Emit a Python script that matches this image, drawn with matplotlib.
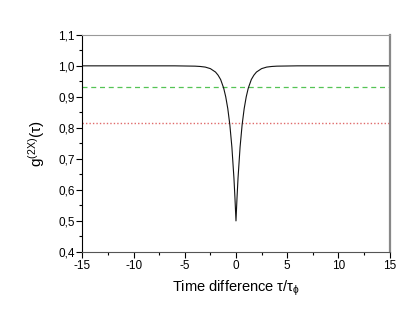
"""g2 correlation dip vs time difference, Origin-style look."""

import matplotlib
matplotlib.use("Agg")
import matplotlib.pyplot as plt
from matplotlib.ticker import MultipleLocator, FuncFormatter

# values (symmetric dip at tau = 0)
tau_half = [0.0, 0.1, 0.2, 0.4, 0.6, 0.8, 1.0, 1.2, 1.5, 1.75, 2.0, 2.5, 3.0, 3.5, 4.0, 6.0, 15.0]
g_half = [0.500, 0.574, 0.638, 0.738, 0.810, 0.862, 0.900, 0.928, 0.956, 0.970,
          0.980, 0.991, 0.996, 0.998, 0.999, 1.000, 1.000]

tau = [-t for t in tau_half[::-1]] + tau_half[1:]
g2 = g_half[::-1] + g_half[1:]

level_green = 0.932
level_red = 0.815

plt.rcParams["font.family"] = ["Liberation Sans", "DejaVu Sans"]
plt.rcParams["mathtext.fontset"] = "custom"
plt.rcParams["mathtext.rm"] = "Liberation Sans"
plt.rcParams["mathtext.it"] = "Liberation Sans"

fig = plt.figure(figsize=(4.14, 3.11), dpi=100)
ax = fig.add_axes([0.199, 0.190, 0.742, 0.698])

ax.axhline(level_green, color="#55c455", lw=0.9, ls=(0, (4, 3)))
ax.axhline(level_red, color="#e06a6a", lw=1.0, ls=(0, (1, 1.5)))
ax.plot(tau, g2, color="#111111", lw=0.8)

ax.set_xlim(-15, 15)
ax.set_ylim(0.4, 1.1)
ax.xaxis.set_major_locator(MultipleLocator(5))
ax.xaxis.set_minor_locator(MultipleLocator(2.5))
ax.yaxis.set_major_locator(MultipleLocator(0.1))
ax.yaxis.set_minor_locator(MultipleLocator(0.05))
ax.yaxis.set_major_formatter(FuncFormatter(lambda v, p: f"{v:.1f}".replace(".", ",")))
ax.xaxis.set_major_formatter(FuncFormatter(lambda v, p: f"{v:.0f}"))
ax.tick_params(which="major", direction="out", length=4, width=0.8, labelsize=8.5, pad=1.5)
ax.tick_params(which="minor", direction="out", length=2, width=0.8)
ax.tick_params(top=False, right=False)

ax.spines["left"].set_color("black")
ax.spines["bottom"].set_color("#555555")
ax.spines["top"].set_color("#999999")
ax.spines["right"].set_color("#888888")
ax.spines["right"].set_linewidth(1.6)
for s in ("left", "bottom", "top"):
    ax.spines[s].set_linewidth(0.8)

ax.set_xlabel(r"Time difference $\tau/\tau_{\phi}$", fontsize=10.5, labelpad=5)
ax.set_ylabel(r"g$^{(2X)}$($\tau$)", fontsize=11, labelpad=8)

fig.savefig("out.png", dpi=100)
